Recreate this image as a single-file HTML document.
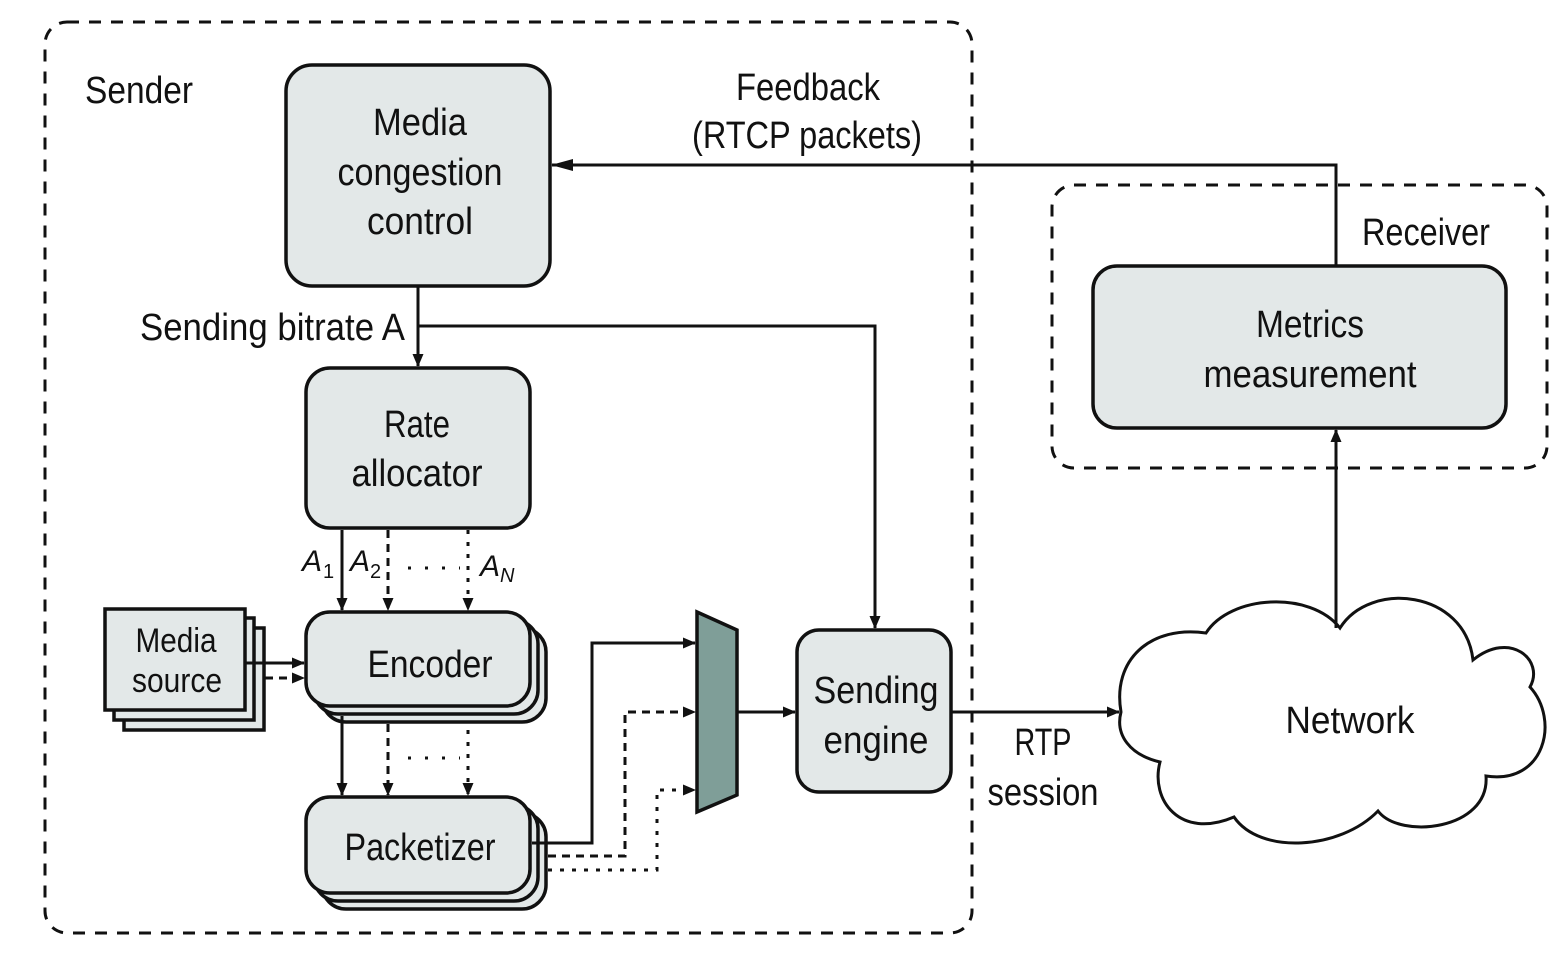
<!DOCTYPE html>
<html><head><style>
html,body{margin:0;padding:0;background:#fff;}
svg{display:block;}
text{font-family:"Liberation Sans",sans-serif;fill:#111;}
</style></head><body>
<svg width="1564" height="956" viewBox="0 0 1564 956" xmlns="http://www.w3.org/2000/svg">
<defs>
<marker id="ar" markerWidth="13" markerHeight="11" refX="12" refY="5.5" orient="auto" markerUnits="userSpaceOnUse">
<path d="M0,0 L13,5.5 L0,11 Z" fill="#111"/>
</marker>
<marker id="ar2" markerWidth="22" markerHeight="12" refX="21" refY="6" orient="auto" markerUnits="userSpaceOnUse">
<path d="M0,0 L22,6 L0,12 Z" fill="#111"/>
</marker>
</defs>
<g fill="none" stroke="#111" stroke-width="3">
<rect x="45" y="22" width="927" height="911" rx="22" stroke-dasharray="12,10"/>
<rect x="1052" y="185" width="495" height="283" rx="22" stroke-dasharray="12,10"/>
</g>
<g stroke="#111" stroke-width="3.5" fill="#e3e8e8">
<rect x="286" y="65" width="264" height="221" rx="26"/>
<rect x="306" y="368" width="224" height="160" rx="24"/>
<rect x="322" y="628" width="224" height="94" rx="24"/>
<rect x="314" y="620" width="224" height="94" rx="24"/>
<rect x="306" y="612" width="224" height="94" rx="24"/>
<rect x="322" y="813" width="224" height="96" rx="24"/>
<rect x="314" y="805" width="224" height="96" rx="24"/>
<rect x="306" y="797" width="224" height="96" rx="24"/>
<rect x="124" y="628" width="140" height="102" rx="0"/>
<rect x="114" y="618" width="140" height="102" rx="0"/>
<rect x="105" y="609" width="140" height="101" rx="0"/>
<rect x="797" y="630" width="154" height="162" rx="22"/>
<rect x="1093" y="266" width="413" height="162" rx="24"/>
<path d="M697,612 L737,630 L737,795 L697,812 Z" fill="#7f9e98"/>
</g>
<path fill="#fff" stroke="#111" stroke-width="3" d="M1121,712 C1112,660 1150,625 1206,633 C1230,595 1310,590 1340,628 C1370,580 1465,590 1473,660 C1510,630 1545,660 1530,687 C1560,720 1545,785 1486,776 C1490,830 1400,840 1378,811 C1340,850 1260,855 1234,817 C1180,840 1150,800 1160,762 C1130,755 1115,735 1121,712 Z"/>
<g fill="none" stroke="#111" stroke-width="3">
<path d="M1336,266 L1336,165 L552,165" marker-end="url(#ar2)"/>
<path d="M418,286 L418,366" marker-end="url(#ar)"/>
<path d="M418,326 L875,326 L875,628" marker-end="url(#ar)"/>
<path d="M342,530 L342,610" marker-end="url(#ar)"/>
<path d="M388,530 L388,610" stroke-dasharray="8,6" marker-end="url(#ar)"/>
<path d="M468,530 L468,610" stroke-dasharray="4,8" marker-end="url(#ar)"/>
<path d="M342,716 L342,795" marker-end="url(#ar)"/>
<path d="M388,724 L388,795" stroke-dasharray="8,6" marker-end="url(#ar)"/>
<path d="M468,730 L468,795" stroke-dasharray="4,8" marker-end="url(#ar)"/>
<path d="M245,663 L304,663" marker-end="url(#ar)"/>
<path d="M265,678 L304,678" stroke-dasharray="8,6" marker-end="url(#ar)"/>
<path d="M532,843 L592,843 L592,643 L695,643" marker-end="url(#ar)"/>
<path d="M548,856 L625,856 L625,712 L695,712" stroke-dasharray="8,6" marker-end="url(#ar)"/>
<path d="M548,870 L657,870 L657,790 L695,790" stroke-dasharray="4,8" marker-end="url(#ar)"/>
<path d="M737,712 L795,712" marker-end="url(#ar)"/>
<path d="M951,712 L1119,712" marker-end="url(#ar)"/>
<path d="M1336,628 L1336,430" marker-end="url(#ar)"/>
</g>
<g fill="none" stroke="#111" stroke-width="3" stroke-dasharray="3,14">
<line x1="408" y1="568" x2="460" y2="568"/>
<line x1="408" y1="758" x2="460" y2="758"/>
</g>
<g font-size="38" text-anchor="middle" lengthAdjust="spacingAndGlyphs">
<text x="420" y="135" textLength="94" lengthAdjust="spacingAndGlyphs">Media</text>
<text x="420" y="185" textLength="165" lengthAdjust="spacingAndGlyphs">congestion</text>
<text x="420" y="234" textLength="106" lengthAdjust="spacingAndGlyphs">control</text>
<text x="417" y="437" textLength="66" lengthAdjust="spacingAndGlyphs">Rate</text>
<text x="417" y="486" textLength="131" lengthAdjust="spacingAndGlyphs">allocator</text>
<text x="430" y="677" textLength="125" lengthAdjust="spacingAndGlyphs">Encoder</text>
<text x="420" y="860" textLength="151" lengthAdjust="spacingAndGlyphs">Packetizer</text>
<text x="876" y="703" textLength="125" lengthAdjust="spacingAndGlyphs">Sending</text>
<text x="876" y="753" textLength="105" lengthAdjust="spacingAndGlyphs">engine</text>
<text x="1310" y="337" textLength="108" lengthAdjust="spacingAndGlyphs">Metrics</text>
<text x="1310" y="387" textLength="213" lengthAdjust="spacingAndGlyphs">measurement</text>
<text x="1350" y="733" textLength="129" lengthAdjust="spacingAndGlyphs">Network</text>
<text x="808" y="100" textLength="144" lengthAdjust="spacingAndGlyphs">Feedback</text>
<text x="807" y="148" textLength="230" lengthAdjust="spacingAndGlyphs">(RTCP packets)</text>
<text x="1043" y="755" textLength="57" lengthAdjust="spacingAndGlyphs">RTP</text>
<text x="1043" y="805" textLength="111" lengthAdjust="spacingAndGlyphs">session</text>
<text x="1426" y="245" textLength="128" lengthAdjust="spacingAndGlyphs">Receiver</text>
</g>
<g font-size="34" text-anchor="middle">
<text x="176" y="652" textLength="81" lengthAdjust="spacingAndGlyphs">Media</text>
<text x="177" y="692" textLength="90" lengthAdjust="spacingAndGlyphs">source</text>
</g>
<text x="85" y="103" font-size="38" textLength="108" lengthAdjust="spacingAndGlyphs">Sender</text>
<text x="140" y="340" font-size="38" textLength="265" lengthAdjust="spacingAndGlyphs">Sending bitrate A</text>
<g font-size="30" font-style="italic">
<text x="302" y="571">A</text><text x="323" y="578" font-size="20" font-style="normal">1</text>
<text x="350" y="571">A</text><text x="370" y="578" font-size="20" font-style="normal">2</text>
<text x="480" y="576">A</text><text x="500" y="582" font-size="20">N</text>
</g>
</svg>
</body></html>
